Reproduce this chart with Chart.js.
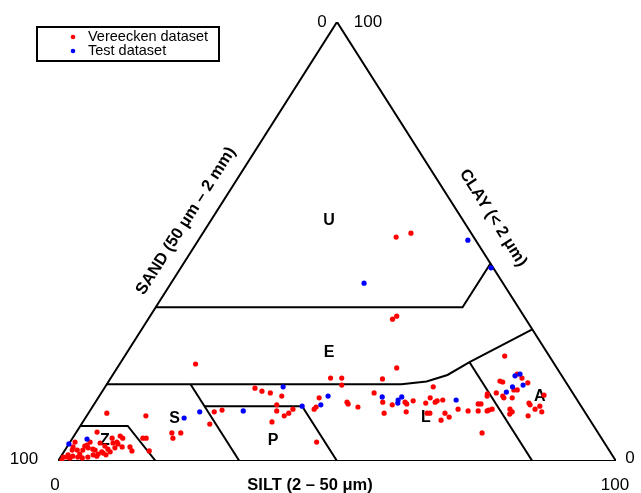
<!DOCTYPE html>
<html>
<head>
<meta charset="utf-8">
<script src="https://cdn.jsdelivr.net/npm/chart.js@4.4.1/dist/chart.umd.min.js"></script>
<style>
  html, body { margin: 0; padding: 0; background: #fff; }
  #wrap { width: 641px; height: 493px; }
</style>
</head>
<body>
<div id="wrap"><canvas id="myChart" width="641" height="493"></canvas></div>
<script>
// texture of the samples, % silt and % clay (sand is the rest)
const vereeckenSilt = [
  35.1, 37.3, 43.8, 44.2, 13.6, 50.1, 68.1, 39.4, 41.4, 42.2, 48.8, 27.0, 28.6, 30.3, 32.7, 48.9, 58.8, 69.3,
  32.8, 33.5, 35.4, 35.9, 36.2, 40.0, 40.1, 39.6, 33.9, 44.2, 45.1, 45.5, 47.6, 51.5, 53.5, 55.5, 56.0, 56.8,
  53.0, 56.8, 59.5, 59.3, 60.9, 61.1, 62.0, 65.8, 67.8, 69.6, 69.3, 68.8, 71.2, 60.7, 61.2, 63.9, 64.0, 65.1, 72.8,
  70.1, 70.7, 72.4, 73.7, 75.3, 74.2, 73.6, 72.3, 72.7, 74.2, 70.8, 69.5, 77.8, 78.2, 79.6, 80.1, 81.1, 79.1,
  75.1, 75.8, 75.6, 71.4, 71.9, 79.6,
  3.3, 10.6, 22.4, 23.6, 23.0, 17.2, 18.0, 18.8,
  3.7, 12.6, 13.2, 15.2, 9.0, 8.4, 7.8, 8.8, 9.9, 11.3, 12.1, 8.7, 8.3, 7.2, 6.4, 5.6, 5.4, 3.9, 3.2, 3.1, 4.0,
  1.1, 0.9, 1.3, 1.1, 1.2, 1.8, 2.1, 0.5, 2.2, 5.5, 6.7, 7.6, 3.6, 3.4, 7.1, 8.3, 6.8, 6.4, 3.1, 4.9, 0.6, 3.1, 4.9, 7.9
];
const vereeckenClay = [
  51.0, 51.9, 32.3, 33.0, 22.1, 21.2, 23.9, 18.9, 18.9, 17.3, 18.7, 16.6, 15.9, 15.5, 14.8, 15.5, 16.9, 15.3,
  12.8, 11.4, 10.3, 10.9, 11.8, 11.8, 12.3, 14.4, 8.9, 4.3, 13.4, 13.0, 12.3, 13.4, 12.8, 13.4, 13.0, 13.7,
  10.9, 11.2, 14.4, 13.2, 13.4, 13.7, 13.9, 11.8, 11.4, 11.4, 13.0, 13.0, 11.4, 10.9, 10.9, 10.9, 9.3, 10.0, 6.4,
  18.2, 18.0, 19.8, 18.9, 17.8, 16.2, 16.2, 14.8, 14.4, 14.4, 15.5, 14.8, 13.2, 12.8, 11.8, 12.5, 11.2, 10.3,
  11.8, 11.2, 10.7, 11.6, 11.8, 15.0,
  10.9, 10.3, 11.2, 11.6, 8.4, 6.4, 5.2, 6.4,
  6.6, 5.2, 5.2, 2.3, 5.2, 4.3, 4.1, 3.9, 3.2, 3.2, 2.3, 3.0, 2.1, 1.8, 1.6, 1.4, 2.5, 3.0, 2.5, 1.6, 0.7,
  3.2, 4.3, 2.5, 1.4, 0.9, 0.7, 1.1, 0.9, 2.5, 4.1, 3.4, 2.7, 4.3, 3.6, 5.2, 5.7, 2.1, 1.1, 3.4, 2.7, 0.2, 0.9, 0.9, 1.4
];
const testSilt = [48.3, 55.6, 34.6, 31.9, 37.5, 40.7, 41.0, 19.8, 27.5, 17.7, 50.8, 54.3, 54.0, 54.3, 64.4,
  72.2, 72.9, 74.7, 73.0, 72.5, 0.0, 2.7];
const testClay = [50.3, 44.0, 40.5, 16.9, 12.5, 12.8, 14.8, 11.2, 11.4, 9.8, 14.6, 14.6, 13.9, 13.2, 13.9,
  19.4, 19.8, 17.3, 16.9, 15.7, 3.9, 5.0];

// class limits, [silt, clay]
const outline = [[0, 0], [100, 0], [0, 100], [0, 0]];
const limitU = [[0, 35], [55, 35], [55, 45]];
const limitE = [[0, 17.5], [52.8, 17.5], [57, 18.1], [60, 19.6], [62.5, 22.5], [70, 30]];
const limitZ = [[0, 8], [8.5, 8], [17.5, 0]];
const limitSP = [[15, 17.5], [32.5, 0]];
const limitP = [[20, 12.5], [37.5, 12.5], [50, 0]];
const limitLA = [[62.5, 22.5], [85, 0]];

const classNames = ['U', 'E', 'S', 'Z', 'P', 'L', 'A'];
const classSilt = [21.2, 36.3, 16.1, 6.1, 36.2, 61.0, 79.0];
const classClay = [54.7, 24.6, 9.6, 4.6, 4.7, 9.9, 14.7];

// ternary -> cartesian: x = silt + clay/2, y = clay
const tern = (s, c) => ({ x: s + c / 2, y: c });
const pts = (silt, clay) => silt.map((s, i) => tern(s, clay[i]));
const line = (verts) => ({
  type: 'line',
  data: verts.map(v => tern(v[0], v[1])),
  showLine: true,
  borderColor: '#000',
  borderWidth: 2,
  pointRadius: 0,
  fill: false,
  tension: 0
});

const FONT = '"Liberation Sans", Arial, Helvetica, sans-serif';

const textPlugin = {
  id: 'ternaryText',
  beforeDatasetsDraw(chart) {
    const ctx = chart.ctx;
    const xs = chart.scales.x, ys = chart.scales.y;
    ctx.save();
    ctx.fillStyle = '#000';
    ctx.font = 'bold 16px ' + FONT;
    ctx.textAlign = 'center';
    ctx.textBaseline = 'middle';
    classNames.forEach((n, i) => {
      const p = tern(classSilt[i], classClay[i]);
      ctx.fillText(n, xs.getPixelForValue(p.x), ys.getPixelForValue(p.y));
    });
    ctx.restore();
  },
  afterDraw(chart) {
    const ctx = chart.ctx;
    const xs = chart.scales.x, ys = chart.scales.y;
    const px = (s, c) => { const p = tern(s, c); return [xs.getPixelForValue(p.x), ys.getPixelForValue(p.y)]; };
    const [lx, ly] = px(0, 0), [rx, ry] = px(100, 0), [tx, ty] = px(0, 100);
    ctx.save();
    ctx.fillStyle = '#000';
    ctx.textAlign = 'center';
    ctx.textBaseline = 'middle';

    // corner ticks
    ctx.font = '17px ' + FONT;
    ctx.fillText('0', tx - 15, ty);
    ctx.fillText('100', tx + 31, ty);
    ctx.fillText('100', lx - 34, ly - 2);
    ctx.fillText('0', lx - 3, ly + 24);
    ctx.fillText('0', rx + 14, ry - 3);
    ctx.fillText('100', rx - 1, ry + 24);

    // axis titles
    const ang = Math.atan2(ly - ty, tx - lx);
    ctx.font = 'bold 16.5px ' + FONT;
    ctx.fillText('SILT (2 \u2013 50 \u03bcm)', (lx + rx) / 2 - 27, ly + 24);

    ctx.save();
    ctx.translate(186, 221);
    ctx.rotate(-ang);
    ctx.fillText('SAND (50 \u03bcm \u2013 2 mm)', 0, 0);
    ctx.restore();

    ctx.save();
    ctx.translate(493, 218);
    ctx.rotate(ang);
    ctx.fillText('CLAY (< 2 \u03bcm)', 0, 0);
    ctx.restore();

    // legend box
    ctx.lineWidth = 2;
    ctx.strokeStyle = '#000';
    ctx.strokeRect(37, 27, 182, 34);
    ctx.font = '14.5px ' + FONT;
    ctx.textAlign = 'left';
    [['Vereecken dataset', '#ff0000', 37], ['Test dataset', '#0000ff', 51]].forEach(([t, c, y]) => {
      ctx.fillStyle = c;
      ctx.beginPath();
      ctx.arc(73, y, 2.3, 0, Math.PI * 2);
      ctx.fill();
      ctx.fillStyle = '#000';
      ctx.fillText(t, 88, y);
    });
    ctx.restore();
  }
};

new Chart(document.getElementById('myChart'), {
  type: 'scatter',
  data: {
    datasets: [
      { label: 'Test dataset', data: pts(testSilt, testClay), backgroundColor: '#0000ff', borderWidth: 0, pointRadius: 2.6 },
      { label: 'Vereecken dataset', data: pts(vereeckenSilt, vereeckenClay), backgroundColor: '#ff0000', borderWidth: 0, pointRadius: 2.6 },
      line(limitU), line(limitE), line(limitZ), line(limitSP), line(limitP), line(limitLA), line(outline)
    ]
  },
  options: {
    responsive: false,
    animation: false,
    layout: { padding: { left: 58, right: 25, top: 22, bottom: 32 } },
    scales: {
      x: { type: 'linear', min: 0, max: 100, display: false },
      y: { type: 'linear', min: 0, max: 100, display: false }
    },
    plugins: {
      legend: { display: false },
      tooltip: { enabled: false }
    }
  },
  plugins: [textPlugin]
});
</script>
</body>
</html>
